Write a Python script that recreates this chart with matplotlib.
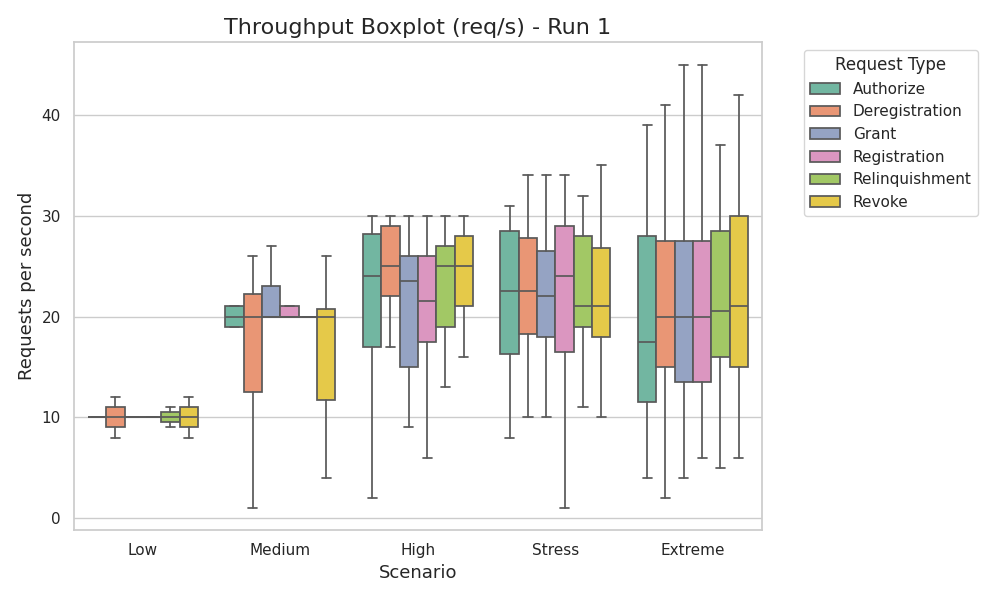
import colorsys
import matplotlib
matplotlib.use("Agg")
import matplotlib.pyplot as plt
from matplotlib.patches import Patch
import seaborn as sns

sns.set_theme(style="whitegrid")
plt.rcParams['font.family'] = ['DejaVu Sans']

scenarios = ["Low", "Medium", "High", "Stress", "Extreme"]
request_types = ["Authorize", "Deregistration", "Grant", "Registration",
                 "Relinquishment", "Revoke"]

# one row per request type, one column per scenario
medians = [
    [10, 20, 24, 22.5, 17.5],
    [10, 20, 25, 22.5, 20],
    [10, 20, 23.5, 22, 20],
    [10, 20, 21.5, 24, 20],
    [10, 20, 25, 21, 20.5],
    [10, 20, 25, 21, 21],
]
q1s = [
    [10, 19, 17, 16.3, 11.5],
    [9, 12.5, 22, 18.3, 15],
    [10, 20, 15, 18, 13.5],
    [10, 20, 17.5, 16.5, 13.5],
    [9.5, 20, 19, 19, 16],
    [9, 11.7, 21, 18, 15],
]
q3s = [
    [10, 21, 28.2, 28.5, 28],
    [11, 22.2, 29, 27.8, 27.5],
    [10, 23, 26, 26.5, 27.5],
    [10, 21, 26, 29, 27.5],
    [10.5, 20, 27, 28, 28.5],
    [11, 20.7, 28, 26.8, 30],
]
whis_low = [
    [10, 19, 2, 8, 4],
    [8, 1, 17, 10, 2],
    [10, 20, 9, 10, 4],
    [10, 20, 6, 1, 6],
    [9, 20, 13, 11, 5],
    [8, 4, 16, 10, 6],
]
whis_high = [
    [10, 21, 30, 31, 39],
    [12, 26, 30, 34, 41],
    [10, 27, 30, 34, 45],
    [10, 21, 30, 34, 45],
    [11, 20, 30, 32, 37],
    [12, 26, 30, 35, 42],
]

palette = [sns.desaturate(c, 0.75) for c in sns.color_palette("Set2", len(request_types))]
lum = min(colorsys.rgb_to_hls(*c)[1] for c in palette) * 0.6
gray = (lum, lum, lum)

fig, ax = plt.subplots(figsize=(10, 6), dpi=100)

n = len(request_types)
width = 0.8 / n
for i, rtype in enumerate(request_types):
    stats = []
    positions = []
    for j, scen in enumerate(scenarios):
        stats.append({
            "med": medians[i][j], "q1": q1s[i][j], "q3": q3s[i][j],
            "whislo": whis_low[i][j], "whishi": whis_high[i][j],
            "fliers": [], "label": scen,
        })
        positions.append(j - 0.4 + width * (i + 0.5))
    ax.bxp(stats, positions=positions, widths=width, patch_artist=True,
           showfliers=False, manage_ticks=False,
           boxprops=dict(facecolor=palette[i], edgecolor=gray, linewidth=1.25),
           medianprops=dict(color=gray, linewidth=1.25),
           whiskerprops=dict(color=gray, linewidth=1.25),
           capprops=dict(color=gray, linewidth=1.25))

ax.set_xlim(-0.5, len(scenarios) - 0.5)
ax.set_xticks(range(len(scenarios)))
ax.set_xticklabels(scenarios)
ax.xaxis.grid(False)
ax.set_yticks([0, 10, 20, 30, 40])

ax.set_title("Throughput Boxplot (req/s) - Run 1", fontsize=16)
ax.set_xlabel("Scenario", fontsize=13)
ax.set_ylabel("Requests per second", fontsize=13)

handles = [Patch(facecolor=palette[i], edgecolor=gray, linewidth=1.25, label=r)
           for i, r in enumerate(request_types)]
ax.legend(handles=handles, title="Request Type", bbox_to_anchor=(1.05, 1),
          loc="upper left", fontsize=11, title_fontsize=12)

plt.tight_layout()
plt.savefig("out.png")
